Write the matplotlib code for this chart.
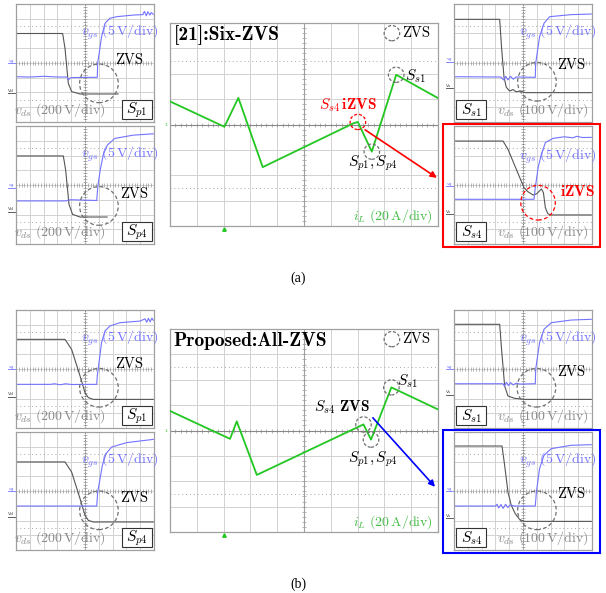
import matplotlib.pyplot as plt
from matplotlib.patches import Ellipse, Rectangle
import numpy as np

plt.rcParams['mathtext.fontset'] = 'cm'
plt.rcParams['font.family'] = ['cmr10', 'DejaVu Serif']
plt.rcParams['axes.unicode_minus'] = False

# inductor current i_L (divisions), (a) reference [21] and (b) proposed
il_a_t = [0, 2.03, 2.55, 3.46, 6.85, 7.01, 7.53, 8.44, 10]
il_a_v = [4.91, 3.91, 5.05, 2.32, 4.05, 4.10, 2.93, 5.96, 5.04]
il_b_t = [0, 2.24, 2.49, 3.24, 7.22, 7.50, 8.26, 10]
il_b_v = [4.77, 3.67, 4.36, 2.25, 4.24, 3.64, 5.70, 4.83]

# switch waveforms (time div, value div)
sp1_a_vds = [(0, 6.0), (3.38, 6.0), (3.55, 5.0), (3.79, 2.62), (4.03, 2.06), (4.64, 1.9), (7.4, 1.9)]
sp1_a_vgs = [(0, 3.07), (1.0, 3.05), (2.0, 3.1), (3.0, 3.05), (3.7, 3.05), (3.8, 2.85), (3.95, 3.0),
             (4.5, 3.02), (5.89, 3.03), (5.92, 3.98), (6.2, 5.78), (6.45, 6.69), (6.8, 7.03), (7.3, 7.14),
             (8.5, 7.25), (9.2, 7.28), (9.3, 7.5), (9.45, 7.2), (9.55, 7.48), (9.7, 7.25), (9.8, 7.42), (9.95, 7.3)]
sp4_a_vds = [(0, 5.97), (3.43, 5.97), (3.6, 5.0), (3.84, 2.69), (4.1, 2.01), (4.64, 1.83), (6.6, 1.83)]
sp4_a_vgs = [(0, 2.92), (3.6, 2.92), (3.8, 2.98), (4.0, 3.0), (5.85, 2.95), (5.92, 3.82), (6.09, 4.95),
             (6.33, 6.08), (6.62, 6.71), (7.17, 7.16), (8.5, 7.38), (9.95, 7.47)]
ss1_a_vds = [(0, 6.96), (3.31, 6.96), (3.45, 5.0), (3.62, 3.07), (3.79, 2.35), (4.03, 2.1), (4.27, 2.2),
             (4.5, 2.05), (4.8, 2.1), (5.17, 1.99), (9.95, 1.99)]
ss1_a_vgs = [(0, 3.07), (3.4, 3.05), (3.6, 2.85), (3.75, 3.1), (3.9, 2.85), (4.1, 3.1), (4.3, 2.9),
             (4.5, 3.05), (5.89, 3.03), (5.92, 3.98), (6.2, 5.78), (6.52, 6.69), (6.93, 7.14), (8.5, 7.28), (9.95, 7.32)]
ss4_a_vds = [(0, 6.98), (3.55, 6.98), (3.91, 6.42), (5.07, 3.82), (5.35, 3.55), (5.73, 3.32), (6.0, 3.41),
             (6.33, 3.73), (6.48, 3.48), (6.62, 2.46), (6.8, 2.05), (7.05, 1.97), (9.95, 1.97)]
ss4_a_vgs = [(0, 3.03), (5.8, 3.03), (5.89, 3.82), (6.1, 5.2), (6.33, 6.08), (6.62, 6.87), (7.17, 7.16),
             (8.0, 7.27), (8.6, 7.2), (8.9, 7.3), (9.3, 7.22), (9.95, 7.23)]
sp1_b_vds = [(0, 6.01), (3.55, 6.01), (4.03, 5.33), (4.64, 3.53), (5.0, 2.4), (5.24, 2.06), (5.6, 1.94), (9.95, 1.94)]
sp1_b_vgs = [(0, 2.96), (2.5, 2.96), (2.8, 3.0), (3.2, 2.93), (3.6, 3.0), (4.0, 2.95), (5.85, 2.96),
             (5.89, 3.53), (6.2, 5.79), (6.45, 6.58), (6.81, 6.92), (7.54, 7.14), (8.99, 7.25), (9.35, 7.4),
             (9.47, 7.17), (9.6, 7.43), (9.72, 7.2), (9.85, 7.45), (9.95, 7.3)]
sp4_b_vds = [(0, 5.97), (3.55, 5.97), (4.03, 5.29), (4.64, 3.48), (5.0, 2.35), (5.24, 2.01), (5.6, 1.9), (9.95, 1.9)]
sp4_b_vgs = [(0, 2.98), (5.85, 2.98), (5.92, 3.93), (6.26, 5.74), (6.52, 6.53), (6.93, 6.98), (8.02, 7.28), (9.95, 7.5)]
ss1_b_vds = [(0, 7.03), (3.31, 7.03), (3.45, 5.3), (3.67, 2.85), (3.91, 2.17), (4.4, 2.01), (5.17, 1.94), (9.95, 1.94)]
ss1_b_vgs = [(0, 3.0), (3.55, 3.0), (3.65, 2.85), (3.8, 3.1), (3.95, 2.88), (4.1, 3.08), (4.3, 2.92),
             (4.5, 3.04), (4.76, 2.98), (5.89, 3.0), (5.92, 3.98), (6.2, 5.79), (6.52, 6.69), (7.05, 7.14),
             (8.5, 7.32), (9.95, 7.37)]
ss4_b_vds = [(0, 7.05), (3.48, 7.05), (3.67, 5.74), (3.91, 3.93), (4.15, 3.03), (4.44, 2.46), (4.76, 2.06),
             (5.12, 1.94), (9.95, 1.94)]
ss4_b_vgs = [(0, 2.98), (3.0, 2.98), (3.12, 3.1), (3.24, 2.85), (3.4, 3.08), (3.56, 2.82), (3.74, 3.1),
             (3.9, 2.88), (4.05, 3.05), (4.4, 2.98), (5.89, 2.98), (5.97, 3.93), (6.2, 5.51), (6.52, 6.42),
             (7.05, 6.87), (8.5, 7.1), (9.95, 7.14)]

W, H = 606, 593
fig = plt.figure(figsize=(W / 100, H / 100), dpi=100)

GRID = '#d2d2d2'
BLUE_TR = '#7373ff'
GRAY_TR = '#555555'
GREEN = '#22c722'


def px_axes(x, y, w, h):
    ax = fig.add_axes([x / W, 1 - (y + h) / H, w / W, h / H])
    ax.set_xlim(0, 10)
    ax.set_ylim(0, 8)
    ax.set_xticks([])
    ax.set_yticks([])
    for s in ax.spines.values():
        s.set_color('#a0a0a0')
        s.set_linewidth(0.9)
    return ax


def scope_grid(ax, tick_len):
    for i in range(1, 10):
        ax.axvline(i, color=GRID, lw=0.7, zorder=0)
    for j in range(1, 8):
        ax.axhline(j, color=GRID, lw=0.7, zorder=0)
    for yy in (6.5, 1.5):
        ax.axhline(yy, color='#a8a8a8', lw=0.7, ls=(0, (1, 3)), zorder=0)
    ax.plot(np.arange(0.2, 10, 0.2), np.full(49, 4.0), ls='none', marker='|',
            ms=tick_len, color='#999999', mew=0.5, zorder=0)
    ax.plot(np.full(39, 5.0), np.arange(0.2, 8, 0.2), ls='none', marker='_',
            ms=tick_len, color='#999999', mew=0.5, zorder=0)


def small_panel(rect, vds, vgs, lv_g, lv_d, dname, circ, zvs_xy, sw, box_left,
                vds_scale, vgs_y=6.1, izvs=False):
    ax = px_axes(*rect)
    scope_grid(ax, 2.5)
    ax.axvline(5, color='#777777', lw=0.7, ls=(0, (1, 1.5)), zorder=0)
    t, v = zip(*vds)
    ax.plot(t, v, color=GRAY_TR, lw=0.8, zorder=2)
    t, v = zip(*vgs)
    ax.plot(t, v, color=BLUE_TR, lw=0.8, zorder=2)
    # reference level markers
    ax.plot([-0.6, 0], [lv_g, lv_g], color=BLUE_TR, lw=0.6, clip_on=False)
    ax.text(-0.55, lv_g + 0.1, 'vg', fontsize=3.2, color=BLUE_TR, family='DejaVu Sans')
    ax.plot([-0.6, 0], [lv_d, lv_d], color='#444444', lw=0.6, clip_on=False)
    ax.text(-0.55, lv_d + 0.1, dname, fontsize=3.2, color='#444444', family='DejaVu Sans')
    ec = 'red' if izvs else '#707070'
    w = 2.5 if izvs else 2.8
    h = 2.35 if izvs else 2.62
    ax.add_patch(Ellipse(circ, w, h, fill=False, ec=ec, lw=0.9,
                         ls=(0, (3, 2)), zorder=4))
    if izvs:
        ax.text(zvs_xy[0], zvs_xy[1], r'$\mathbf{iZVS}$', color='red', fontsize=11,
                ha='center', va='center', zorder=5)
    else:
        ax.text(zvs_xy[0], zvs_xy[1], 'ZVS', fontsize=10.5, ha='center',
                va='center', zorder=5)
    ax.text(10.3, vgs_y, r'$v_{gs}\ (5\,\mathrm{V/div})$', color=BLUE_TR, fontsize=10,
            ha='right', va='center', clip_on=False, zorder=5)
    if box_left:
        ax.text(9.75, 0.8, r'$v_{ds}\ (%d\,\mathrm{V/div})$' % vds_scale, color='#8a8a8a',
                fontsize=10, ha='right', va='center', zorder=5)
        bx = 0.17
    else:
        ax.text(-0.15, 0.8, r'$v_{ds}\ (%d\,\mathrm{V/div})$' % vds_scale, color='#8a8a8a',
                fontsize=10, ha='left', va='center', clip_on=False, zorder=5)
        bx = 7.66
    ax.add_patch(Rectangle((bx, 0.17), 2.17, 1.3, fc='white', ec='#333333', lw=0.8, zorder=6))
    ax.text(bx + 1.085, 0.82, sw, fontsize=11, ha='center', va='center', zorder=7)
    return ax


def center_panel(rect, t, v, circ_idx, red_idx, title, s4_label, s4_xy, s1_xy, sp_xy,
                 arrow, arrow_color):
    ax = px_axes(*rect)
    scope_grid(ax, 3.5)
    ax.axhline(4, color='#888888', lw=0.8, zorder=0)
    ax.axvline(5, color='#a0a0a0', lw=0.8, zorder=0)
    ax.plot(t, v, color=GREEN, lw=1.3, zorder=3)
    for i in circ_idx:
        ax.add_patch(Ellipse((t[i], v[i]), 0.58, 0.6, fill=False, ec='#707070',
                             lw=0.9, ls=(0, (2.5, 1.5)), zorder=4))
    if red_idx is not None:
        ax.add_patch(Ellipse((t[red_idx], v[red_idx]), 0.58, 0.6, fill=False, ec='red',
                             lw=0.9, ls=(0, (2.5, 1.5)), zorder=4))
    # legend entry
    ax.add_patch(Ellipse((8.28, 7.6), 0.58, 0.6, fill=False, ec='#707070',
                         lw=0.9, ls=(0, (2.5, 1.5))))
    ax.text(8.66, 7.6, 'ZVS', fontsize=10.5, va='center', ha='left')
    ax.text(0.13, 7.53, title, fontsize=14, family='cmb10', va='center', ha='left')
    ax.text(s1_xy[0], s1_xy[1], r'$S_{s1}$', fontsize=11, va='center', ha='left')
    ax.text(sp_xy[0], sp_xy[1], r'$S_{p1},S_{p4}$', fontsize=11, va='center', ha='center')
    ax.text(s4_xy[0], s4_xy[1], s4_label[0], color=s4_label[1], fontsize=11,
            va='center', ha='center')
    ax.text(9.8, 0.38, r'$i_L\ (20\,\mathrm{A/div})$', color='#44bb44', fontsize=10,
            va='center', ha='right')
    # channel markers
    ax.text(-0.12, 4.0, '1', fontsize=3.2, color=GREEN, va='center', ha='right',
            family='DejaVu Sans')
    ax.plot([2.0], [-0.12], marker='^', ms=2.5, color=GREEN, clip_on=False)
    ax.annotate('', xy=arrow[1], xytext=arrow[0],
                arrowprops=dict(arrowstyle='-|>', color=arrow_color, lw=1.2,
                                mutation_scale=9, shrinkA=0, shrinkB=0),
                annotation_clip=False, zorder=6)
    return ax


for dy, tag in ((0, 'a'), (306, 'b')):
    if tag == 'a':
        small_panel((16, 4 + dy, 138, 118), sp1_a_vds, sp1_a_vgs, 4.0, 1.94, 'Vd', (6.01, 2.62),
                    (8.2, 4.2), r'$S_{p1}$', False, 200)
        small_panel((16, 126 + dy, 138, 118), sp4_a_vds, sp4_a_vgs, 3.82, 2.19, 'Vd', (6.01, 2.58),
                    (8.55, 3.41), r'$S_{p4}$', False, 200)
        small_panel((454, 4 + dy, 138, 118), ss1_a_vds, ss1_a_vgs, 4.09, 2.28, 'Vs', (6.01, 2.73),
                    (8.5, 3.86), r'$S_{s1}$', True, 100)
        small_panel((454, 126 + dy, 138, 118), ss4_a_vds, ss4_a_vgs, 3.93, 2.01, 'Vs', (6.09, 2.8),
                    (8.95, 3.59), r'$S_{s4}$', True, 100, vgs_y=5.97, izvs=True)
        center_panel((170, 23 + dy, 268, 203), il_a_t, il_a_v, [6, 7], 5, '[21]:Six-ZVS',
                     (r'$S_{s4}\,\mathbf{iZVS}$', 'red'), (6.64, 4.77), (8.77, 5.91), (7.57, 2.49),
                     ((7.28, 3.79), (9.96, 1.9)), 'red')
        box_color = 'red'
    else:
        small_panel((16, 4 + dy, 138, 118), sp1_b_vds, sp1_b_vgs, 3.98, 2.12, 'Vd', (6.01, 2.73),
                    (8.2, 4.32), r'$S_{p1}$', False, 200)
        small_panel((16, 126 + dy, 138, 118), sp4_b_vds, sp4_b_vgs, 3.98, 2.24, 'Vd', (6.01, 2.69),
                    (8.55, 3.53), r'$S_{p4}$', False, 200)
        small_panel((454, 4 + dy, 138, 118), ss1_b_vds, ss1_b_vgs, 3.98, 2.24, 'Vs', (5.97, 2.73),
                    (8.5, 3.8), r'$S_{s1}$', True, 100)
        small_panel((454, 126 + dy, 138, 118), ss4_b_vds, ss4_b_vgs, 3.98, 2.17, 'Vs', (6.01, 2.69),
                    (8.5, 3.82), r'$S_{s4}$', True, 100)
        center_panel((170, 23 + dy, 268, 203), il_b_t, il_b_v, [4, 5, 6], None, 'Proposed:All-ZVS',
                     (r'$S_{s4}\ \mathbf{ZVS}$', 'black'), (6.42, 4.93), (8.47, 5.94), (7.57, 2.86),
                     ((7.57, 4.5), (9.89, 1.78)), 'blue')
        box_color = 'blue'
    # highlight frame around S_s4
    fig.add_artist(Rectangle((443 / W, 1 - (247 + dy) / H), 157 / W, 123 / H,
                             transform=fig.transFigure, fill=False, ec=box_color, lw=1.5))
    fig.text(298 / W, 1 - (278 + dy) / H, '(%s)' % tag, fontsize=10, ha='center',
             va='center', family='Liberation Serif')

fig.savefig('out.png', dpi=100)
